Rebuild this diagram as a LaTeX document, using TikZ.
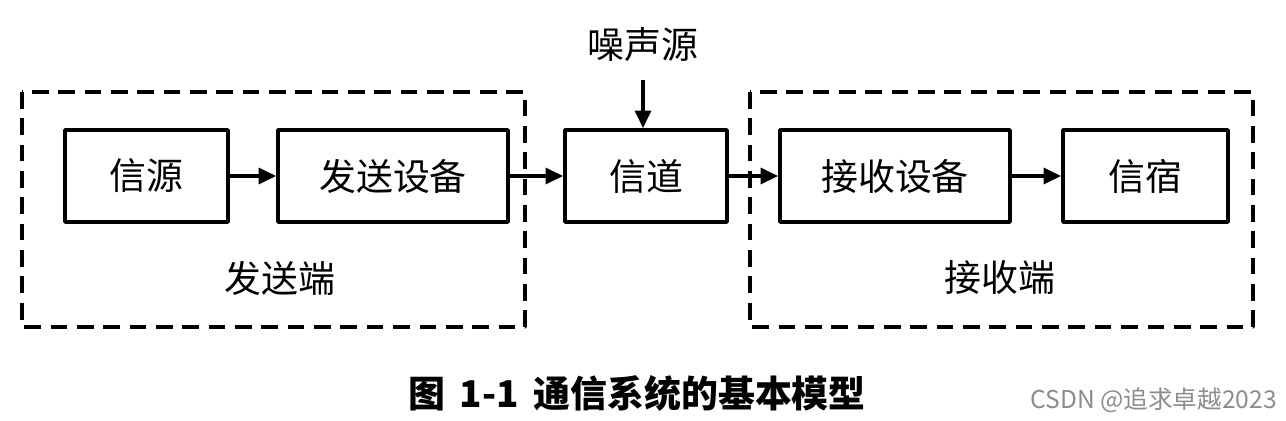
\documentclass[tikz,border=0pt]{standalone}
\usepackage{fontspec}
\setmainfont{Noto Sans CJK SC}
\usetikzlibrary{arrows.meta}

\begin{document}
\begin{tikzpicture}[x=0.02cm, y=-0.02cm, line join=round,
    blk/.style={draw, line width=2.1pt, minimum height=1.84cm, inner sep=0pt,
        font=\fontsize{21}{21}\selectfont},
    grp/.style={line width=2.1pt, dash pattern=on 9.5pt off 5.5pt},
    arr/.style={line width=2.1pt, -{Triangle[length=10pt,width=9pt]}},
    lbl/.style={font=\fontsize{21}{21}\selectfont}]
    \useasboundingbox (0,0) rectangle (1286,420);
    % dashed groups
    \coordinate (txNW) at (22,92);
    \coordinate (txSE) at (525,327);
    \coordinate (rxNW) at (750,92);
    \coordinate (rxSE) at (1253,327);
    \draw[grp] (txNW) rectangle (txSE);
    \draw[grp] (rxNW) rectangle (rxSE);
    % blocks
    \node[blk, minimum width=3.26cm] (src) at (146.5,176) {信源};
    \node[blk, minimum width=4.60cm] (tx) at (393,176) {发送设备};
    \node[blk, minimum width=3.24cm] (ch) at (646,176) {信道};
    \node[blk, minimum width=4.60cm] (rx) at (895,176) {接收设备};
    \node[blk, minimum width=3.30cm] (dst) at (1145.5,176) {信宿};
    \node[lbl] (noise) at (643,45) {噪声源};
    \node[lbl] (txlbl) at (280,278) {发送端};
    \node[lbl] (rxlbl) at (1000,278) {接收端};
    % connectors
    \draw[arr] (src) -- (tx);
    \draw[arr] (tx) -- (ch);
    \draw[arr] (ch) -- (rx);
    \draw[arr] (rx) -- (dst);
    \draw[arr, shorten <=0.24cm] (noise.south) -- (noise.south |- ch.north);
    % caption
    \node[font=\fontsize{21}{21}\selectfont\bfseries] (cap) at (637,393) {图\hspace{0.4em}1-1\hspace{0.4em}通信系统的基本模型};
    \node[anchor=east, text=black!45, font=\fontsize{14}{14}\selectfont] (wm) at (1283,400) {CSDN @追求卓越2023};
\end{tikzpicture}
\end{document}
